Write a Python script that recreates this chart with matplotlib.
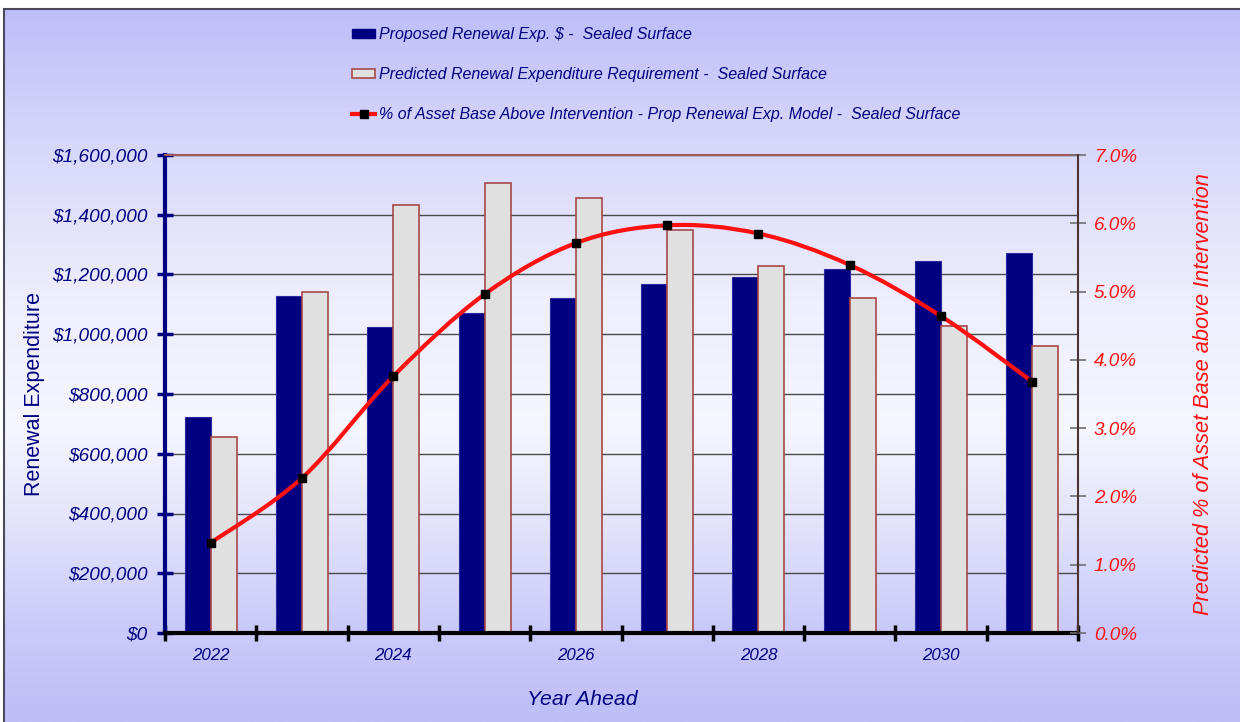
import numpy as np
import matplotlib
matplotlib.use("Agg")
import matplotlib.pyplot as plt
from matplotlib.path import Path
from matplotlib.patches import PathPatch, Patch
from matplotlib.lines import Line2D
from matplotlib.ticker import FuncFormatter, MultipleLocator

# ---- data -------------------------------------------------------------
years = [2022, 2023, 2024, 2025, 2026, 2027, 2028, 2029, 2030, 2031]
proposed_exp = [722000, 1128000, 1025000, 1072000, 1121000,
                1167000, 1192000, 1218000, 1244000, 1271000]
required_exp = [655000, 1140000, 1432000, 1505000, 1456000,
                1348000, 1229000, 1121000, 1029000, 960000]
pct_above = [1.32, 2.27, 3.76, 4.96, 5.71, 5.97, 5.85, 5.39, 4.64, 3.68]
labelled_years = [2022, 2024, 2026, 2028, 2030]

legend_labels = [
    "Proposed Renewal Exp. $ -  Sealed Surface",
    "Predicted Renewal Expenditure Requirement -  Sealed Surface",
    "% of Asset Base Above Intervention - Prop Renewal Exp. Model -  Sealed Surface",
]

NAVY = "#000080"
RED = "#ff1010"
FONT = "Liberation Sans"

W, H = 1240, 722
fig = plt.figure(figsize=(W / 100, H / 100), dpi=100, facecolor="white")

# ---- background panel with vertical gradient ----------------------------
bg = fig.add_axes([4 / W, 0, 1 - 4 / W, (H - 9) / H], zorder=-10)
stops_y = np.array([0, 140, 290, 420, 520, 620, 713]) / 713
stops_c = np.array([[190, 190, 250], [216, 216, 251], [238, 238, 253],
                    [246, 246, 254], [226, 226, 252], [202, 202, 250],
                    [190, 190, 248]]) / 255
yy = np.linspace(0, 1, 400)
grad = np.stack([np.interp(yy, stops_y, stops_c[:, k]) for k in range(3)], axis=-1)
bg.imshow(grad[:, None, :], aspect="auto", extent=[0, 1, 1, 0])
bg.set_xlim(0, 1)
bg.set_ylim(1, 0)
bg.set_xticks([])
bg.set_yticks([])
for s in ["right", "bottom"]:
    bg.spines[s].set_visible(False)
for s in ["left", "top"]:
    bg.spines[s].set_color("#4a4a5a")
    bg.spines[s].set_linewidth(1.5)

# ---- main axes -----------------------------------------------------------
ax = fig.add_axes([165 / W, 1 - 633 / H, (1078 - 165) / W, (633 - 155) / H])
ax.patch.set_alpha(0)
x = np.arange(len(years))
bw = 0.285

ax.bar(x - bw / 2, proposed_exp, width=bw, color=NAVY, edgecolor="#2a2aa0",
       linewidth=0.8, zorder=2)
ax.bar(x + bw / 2, required_exp, width=bw, color="#e0e0e0", edgecolor="#a84848",
       linewidth=1.2, zorder=2)

ax.set_xlim(-0.5, len(years) - 0.5)
ax.set_ylim(0, 1600000)
ax.yaxis.set_major_locator(MultipleLocator(200000))
ax.yaxis.set_major_formatter(FuncFormatter(lambda v, p: f"${v:,.0f}"))
ax.grid(axis="y", color="#4a4a4a", linewidth=1.0, zorder=0)
ax.set_axisbelow(True)

ax.spines["left"].set_color(NAVY)
ax.spines["left"].set_linewidth(3)
ax.spines["bottom"].set_color("black")
ax.spines["bottom"].set_linewidth(3)
ax.spines["top"].set_color("#a05a5a")
ax.spines["top"].set_linewidth(1.5)
ax.spines["right"].set_visible(False)
for s in ax.spines.values():
    s.set_zorder(3)

ax.tick_params(axis="y", direction="inout", length=11, width=2.5, color=NAVY,
               labelcolor=NAVY, labelsize=13.7, pad=7)
for t in ax.get_yticklabels():
    t.set_fontstyle("italic")
    t.set_fontfamily(FONT)

# category boundaries carry the tick marks; every other year is labelled
ax.set_xticks(np.arange(len(years) + 1) - 0.5)
ax.set_xticklabels([])
ax.tick_params(axis="x", which="major", direction="inout", length=11, width=2.5,
               color="black")
lab_pos = [years.index(yv) for yv in labelled_years]
ax.set_xticks(lab_pos, minor=True)
ax.set_xticklabels([str(yv) for yv in labelled_years], minor=True,
                   fontstyle="italic", fontfamily=FONT, fontsize=12.2, color=NAVY)
ax.tick_params(axis="x", which="minor", length=0, pad=11)

ax.set_ylabel("Renewal Expenditure", fontsize=15.5, color=NAVY, fontfamily=FONT,
              labelpad=5)
ax.set_xlabel("Year Ahead", fontsize=15.3, color=NAVY, fontfamily=FONT,
              fontstyle="italic", labelpad=19)
ax.xaxis.label.set_x(0.457)

# ---- secondary axis: percentage line ------------------------------------
ax2 = ax.twinx()
ax2.set_ylim(0, 7)
ax2.yaxis.set_major_locator(MultipleLocator(1))
ax2.yaxis.set_major_formatter(FuncFormatter(lambda v, p: f"{v:.1f}%"))
for s in ["left", "top", "bottom"]:
    ax2.spines[s].set_visible(False)
ax2.spines["right"].set_color("#4a3434")
ax2.spines["right"].set_linewidth(1.5)
ax2.tick_params(axis="y", direction="inout", length=11, width=1.2, color="#707070",
                labelcolor=RED, labelsize=13.6, pad=6)
for t in ax2.get_yticklabels():
    t.set_fontstyle("italic")
    t.set_fontfamily(FONT)
ax2.set_ylabel("Predicted % of Asset Base above Intervention", fontsize=15.7,
               color=RED, fontfamily=FONT, fontstyle="italic", labelpad=40)

# smoothed line through the points (cubic Bezier segments)
pts = np.column_stack([x, pct_above]).astype(float)
ext = np.vstack([pts[0], pts, pts[-1]])
verts = [pts[0]]
codes = [Path.MOVETO]
for i in range(len(pts) - 1):
    p0, p1, p2, p3 = ext[i], ext[i + 1], ext[i + 2], ext[i + 3]
    verts += [p1 + (p2 - p0) / 6, p2 - (p3 - p1) / 6, p2]
    codes += [Path.CURVE4] * 3
ax2.add_patch(PathPatch(Path(verts, codes), facecolor="none", edgecolor=RED,
                        linewidth=3, zorder=4, capstyle="round"))
ax2.plot(x, pct_above, ls="none", marker="s", ms=5.5, color="black", zorder=5)

# ---- legend --------------------------------------------------------------
handles = [
    Patch(facecolor=NAVY, edgecolor=NAVY),
    Patch(facecolor="#e0e0e0", edgecolor="#a84848", linewidth=1.2),
    Line2D([], [], color=RED, linewidth=3, marker="s", ms=5.5,
           markerfacecolor="black", markeredgecolor="black"),
]
leg = fig.legend(handles, legend_labels, loc="upper left",
                 bbox_to_anchor=(346 / W, 1 - 21 / H), frameon=False,
                 prop={"family": FONT, "style": "italic", "size": 11.5},
                 labelcolor=NAVY, handlelength=1.4, handleheight=0.5,
                 handletextpad=0.25, labelspacing=1.55, borderaxespad=0)

fig.savefig("out.png", dpi=100, facecolor=fig.get_facecolor())
